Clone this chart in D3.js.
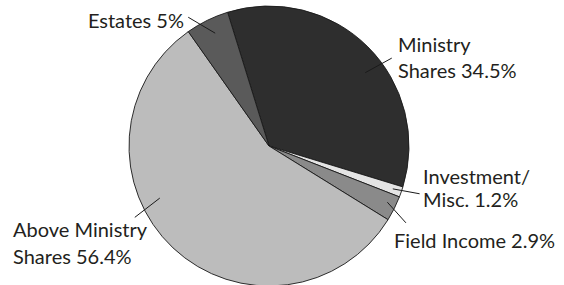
<!DOCTYPE html>
<html>
<head>
<meta charset="utf-8">
<script src="https://cdn.jsdelivr.net/npm/d3@7"></script>
<style>
  html, body { margin: 0; padding: 0; background: #fff; }
  svg text { font-family: Lato, "Open Sans", sans-serif; fill: #231f20; }
</style>
</head>
<body>
<svg id="chart" width="564" height="285"></svg>
<script>
// slices, clockwise from the Estates/Ministry edge
const categories = ['Ministry Shares', 'Investment/Misc.', 'Field Income', 'Above Ministry Shares', 'Estates'];
const shares = [34.5, 1.2, 2.9, 56.4, 5];
const fills = ['#2e2e2e', '#e4e4e4', '#8a8a8a', '#bcbcbc', '#5a5a5a'];

// label text lines per slice
const labelLines = [
  ['Ministry', 'Shares 34.5%'],
  ['Investment/', 'Misc. 1.2%'],
  ['Field Income 2.9%'],
  ['Above Ministry', 'Shares 56.4%'],
  ['Estates 5%']
];

// leader: angle (deg from north) and radii, plus text anchor point
const leaders = [
  { a1: 52.7, r1: 121, a2: 54.4, r2: 151, x: 398, y: 52, lh: 26, anchor: 'start' },
  { a1: 109.1, r1: 131, a2: 107.6, r2: 158, x: 423, y: 184, lh: 23, anchor: 'start' },
  { a1: 115.4, r1: 131, a2: 119.3, r2: 157, x: 394, y: 248, lh: 0, anchor: 'start' },
  { a1: 244.5, r1: 121, a2: 242, r2: 152, x: 13, y: 237, lh: 27, anchor: 'start' },
  { a1: -25.5, r1: 125, a2: -32.1, r2: 152, x: 184, y: 28, lh: 0, anchor: 'end' }
];

const cx = 269, cy = 146, R = 140;
const startDeg = -17.2;

const svg = d3.select('#chart');
const g = svg.append('g').attr('transform', `translate(${cx},${cy})`);

const pie = d3.pie()
  .sort(null)
  .value(d => d)
  .startAngle(startDeg * Math.PI / 180)
  .endAngle((startDeg + 360) * Math.PI / 180);

const arc = d3.arc().innerRadius(0).outerRadius(R);

g.selectAll('.slice')
  .data(pie(shares))
  .enter()
  .append('path')
  .classed('slice', true)
  .attr('d', arc)
  .style('fill', (d, i) => fills[i])
  .style('stroke', '#1a1a1a')
  .style('stroke-width', 0.9)
  .style('stroke-linejoin', 'round');

function polar(deg, r) {
  const t = deg * Math.PI / 180;
  return [r * Math.sin(t), -r * Math.cos(t)];
}

g.selectAll('.leader')
  .data(leaders)
  .enter()
  .append('line')
  .classed('leader', true)
  .attr('x1', d => polar(d.a1, d.r1)[0])
  .attr('y1', d => polar(d.a1, d.r1)[1])
  .attr('x2', d => polar(d.a2, d.r2)[0])
  .attr('y2', d => polar(d.a2, d.r2)[1])
  .style('stroke', '#1a1a1a')
  .style('stroke-width', 1);

const labels = svg.selectAll('.label')
  .data(labelLines)
  .enter()
  .append('text')
  .classed('label', true)
  .attr('text-anchor', (d, i) => leaders[i].anchor)
  .style('font-size', '20px');

labels.selectAll('tspan')
  .data((d, i) => d.map(t => ({ t, i })))
  .enter()
  .append('tspan')
  .attr('x', d => leaders[d.i].x)
  .attr('y', (d, j) => leaders[d.i].y + j * leaders[d.i].lh)
  .text(d => d.t);
</script>
</body>
</html>
